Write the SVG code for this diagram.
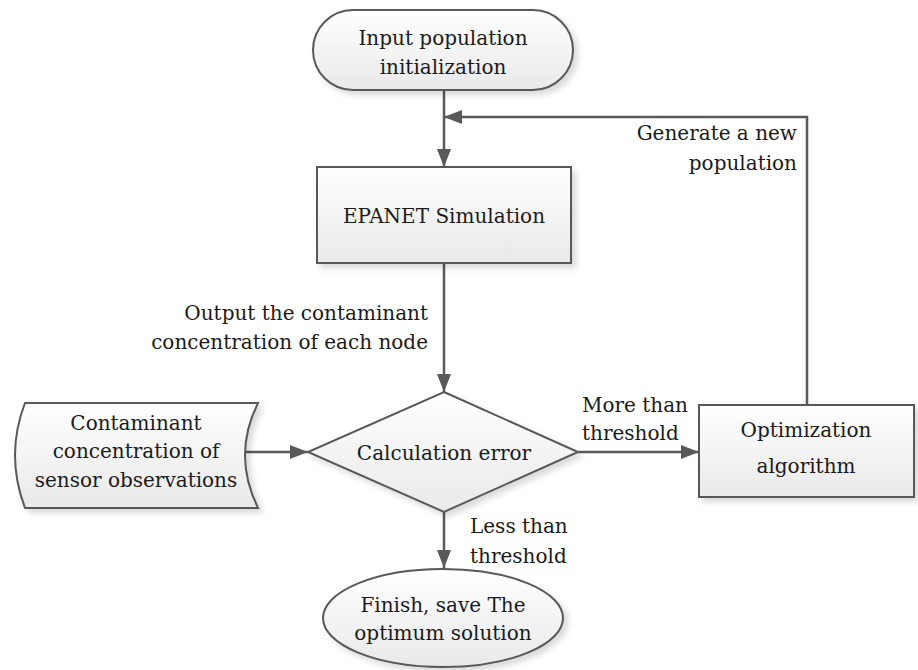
<svg xmlns="http://www.w3.org/2000/svg" width="918" height="670" viewBox="0 0 918 670">
<defs>
<linearGradient id="g" x1="0" y1="0" x2="0" y2="1">
<stop offset="0" stop-color="#ffffff"/>
<stop offset="1" stop-color="#e9e9e9"/>
</linearGradient>
<filter id="sh" x="-10%" y="-10%" width="130%" height="140%">
<feDropShadow dx="4" dy="4" stdDeviation="3" flood-color="#000" flood-opacity="0.15"/>
</filter>
<marker id="ah" markerUnits="userSpaceOnUse" markerWidth="20" markerHeight="16" refX="18" refY="7" orient="auto">
<path d="M0,0 L18,7 L0,14 Z" fill="#595959"/>
</marker>
<style>
.n{fill:url(#g);stroke:#595959;stroke-width:2;filter:url(#sh)}
.t{font-family:"DejaVu Serif","Liberation Serif",serif;font-size:20px;fill:#1a1a1a;text-anchor:middle}
.l{font-family:"DejaVu Serif","Liberation Serif",serif;font-size:20px;fill:#1a1a1a}
.c{fill:none;stroke:#595959;stroke-width:2.5}
</style>
</defs>
<rect width="918" height="670" fill="#fff"/>
<g id="connectors">
<path class="c" d="M444,90 V167" marker-end="url(#ah)"/>
<path class="c" d="M807,405 V117 H444" marker-end="url(#ah)"/>
<path class="c" d="M444,263 V392" marker-end="url(#ah)"/>
<path class="c" d="M246,452 H308" marker-end="url(#ah)"/>
<path class="c" d="M578,452 H699" marker-end="url(#ah)"/>
<path class="c" d="M444,512 V568" marker-end="url(#ah)"/>
</g>
<g id="labels">
<text class="l" x="797" y="140" text-anchor="end">Generate a new</text>
<text class="l" x="797" y="170" text-anchor="end">population</text>
<text class="l" x="428" y="320" text-anchor="end">Output the contaminant</text>
<text class="l" x="428" y="349" text-anchor="end">concentration of each node</text>
<text class="l" x="582" y="412">More than</text>
<text class="l" x="582" y="440">threshold</text>
<text class="l" x="470" y="533">Less than</text>
<text class="l" x="470" y="563">threshold</text>
</g>
<g id="start">
<rect class="n" x="313" y="10" width="260" height="80" rx="40" ry="40"/>
<text class="t" x="443" y="45">Input population</text>
<text class="t" x="443" y="74">initialization</text>
</g>
<g id="epanet">
<rect class="n" x="317" y="167" width="254" height="96"/>
<text class="t" x="444" y="223">EPANET Simulation</text>
</g>
<g id="calc">
<path class="n" d="M444,392 L578,452 L444,512 L308,452 Z"/>
<text class="t" x="444" y="460">Calculation error</text>
</g>
<g id="sensor">
<path class="n" d="M25,403 L258,403 Q232,455 258,508 L25,508 Q5,455 25,403 Z"/>
<text class="t" x="136" y="430">Contaminant</text>
<text class="t" x="136" y="458">concentration of</text>
<text class="t" x="136" y="487">sensor observations</text>
</g>
<g id="optim">
<rect class="n" x="699" y="405" width="215" height="92"/>
<text class="t" x="806" y="437">Optimization</text>
<text class="t" x="806" y="473">algorithm</text>
</g>
<g id="finish">
<ellipse class="n" cx="443" cy="618" rx="120" ry="49"/>
<text class="t" x="443" y="612">Finish, save The</text>
<text class="t" x="443" y="640">optimum solution</text>
</g>
</svg>
